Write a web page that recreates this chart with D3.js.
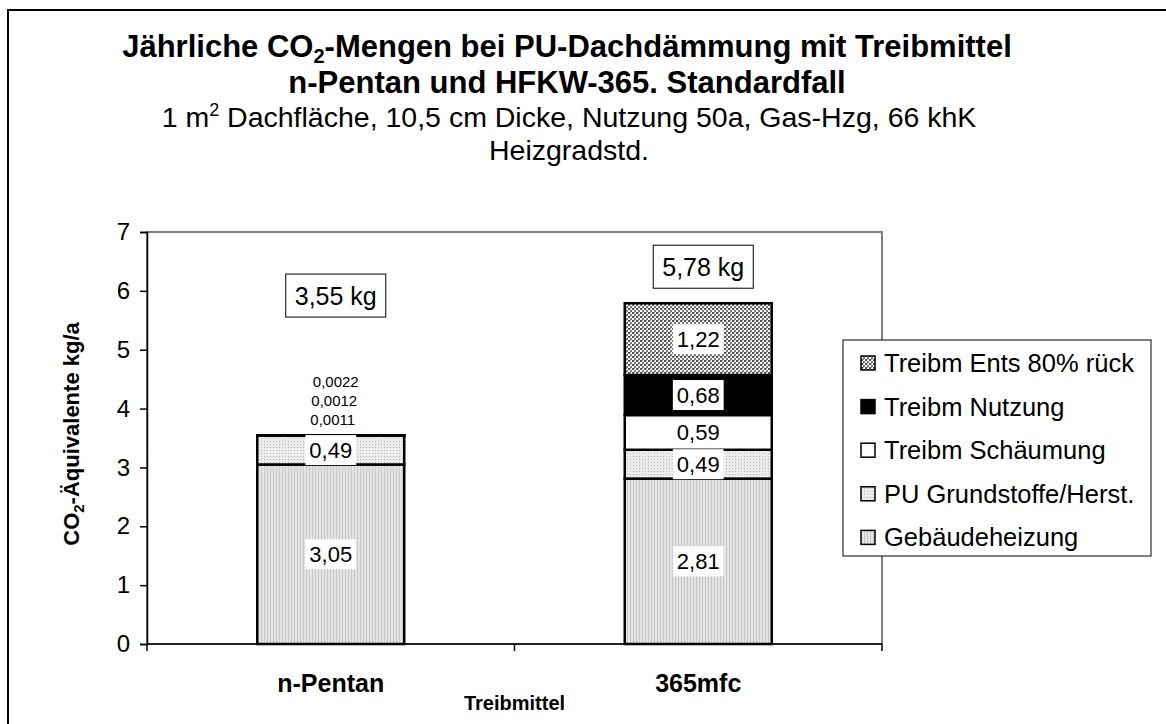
<!DOCTYPE html>
<html>
<head>
<meta charset="utf-8">
<script src="https://cdn.jsdelivr.net/npm/d3@7"></script>
<style>
  body { margin: 0; background: #fff; }
  svg { display: block; font-family: "Liberation Sans", Arial, sans-serif; }
</style>
</head>
<body>
<div id="chart"></div>
<script>
// Daten
const categories = ["n-Pentan", "365mfc"];
const seriesNames = ["Gebäudeheizung", "PU Grundstoffe/Herst.", "Treibm Schäumung", "Treibm Nutzung", "Treibm Ents 80% rück"];
const gebaeudeheizung = [3.05, 2.81];
const puGrundstoffe = [0.49, 0.49];
const treibmSchaeumung = [0.0011, 0.59];
const treibmNutzung = [0.0012, 0.68];
const treibmEnts = [0.0022, 1.22];
const totalLabels = ["3,55 kg", "5,78 kg"];
const totalLabelLevel = [5.92, 6.41];
const yTicks = [0, 1, 2, 3, 4, 5, 6, 7];

const width = 1166;
const height = 724;
const plot = { left: 147, right: 882, top: 232, bottom: 644 };

const rows = categories.map((c, i) => ({
  category: c,
  "Gebäudeheizung": gebaeudeheizung[i],
  "PU Grundstoffe/Herst.": puGrundstoffe[i],
  "Treibm Schäumung": treibmSchaeumung[i],
  "Treibm Nutzung": treibmNutzung[i],
  "Treibm Ents 80% rück": treibmEnts[i]
}));

const stacked = d3.stack().keys(seriesNames)(rows);

const svg = d3.select("#chart").append("svg")
    .attr("width", width)
    .attr("height", height);

// Muster
const defs = svg.append("defs");

const pHeiz = defs.append("pattern").attr("id", "p-heiz")
    .attr("patternUnits", "userSpaceOnUse").attr("width", 3).attr("height", 3);
pHeiz.append("rect").attr("width", 3).attr("height", 3).attr("fill", "#e4e4e4");
pHeiz.append("rect").attr("width", 1).attr("height", 3).attr("fill", "#c8c8c8");

const pPu = defs.append("pattern").attr("id", "p-pu")
    .attr("patternUnits", "userSpaceOnUse").attr("width", 3).attr("height", 3);
pPu.append("rect").attr("width", 3).attr("height", 3).attr("fill", "#ececec");
pPu.append("rect").attr("width", 1).attr("height", 1).attr("fill", "#b8b8b8");

const pEnts = defs.append("pattern").attr("id", "p-ents")
    .attr("patternUnits", "userSpaceOnUse").attr("width", 4).attr("height", 4);
pEnts.append("rect").attr("width", 4).attr("height", 4).attr("fill", "#ffffff");
pEnts.append("rect").attr("x", 0).attr("y", 0).attr("width", 2).attr("height", 2).attr("fill", "#555");
pEnts.append("rect").attr("x", 2).attr("y", 2).attr("width", 2).attr("height", 2).attr("fill", "#777");
pEnts.append("rect").attr("x", 2).attr("y", 0).attr("width", 1).attr("height", 1).attr("fill", "#999");

const fills = {
  "Gebäudeheizung": "url(#p-heiz)",
  "PU Grundstoffe/Herst.": "url(#p-pu)",
  "Treibm Schäumung": "#ffffff",
  "Treibm Nutzung": "#000000",
  "Treibm Ents 80% rück": "url(#p-ents)"
};

// Rahmen
svg.append("rect")
    .attr("x", 8).attr("y", 10)
    .attr("width", width + 20).attr("height", height + 20)
    .attr("fill", "none")
    .attr("stroke", "#000")
    .attr("stroke-width", 2);

// Titel
const title = svg.append("text")
    .attr("text-anchor", "middle")
    .attr("font-weight", "bold")
    .attr("font-size", 31)
    .attr("fill", "#000");
const t1 = title.append("tspan").attr("x", 567).attr("y", 57);
t1.append("tspan").text("Jährliche CO");
t1.append("tspan").attr("font-size", 20).attr("dy", 6).text("2");
t1.append("tspan").attr("dy", -6).text("-Mengen bei PU-Dachdämmung mit Treibmittel");
svg.append("text")
    .attr("text-anchor", "middle")
    .attr("font-weight", "bold")
    .attr("font-size", 31)
    .attr("x", 567).attr("y", 93)
    .text("n-Pentan und HFKW-365. Standardfall");

const s1 = svg.append("text")
    .attr("text-anchor", "middle")
    .attr("font-size", 28.5)
    .attr("x", 569).attr("y", 127);
s1.append("tspan").text("1 m");
s1.append("tspan").attr("font-size", 18).attr("dy", -11).text("2");
s1.append("tspan").attr("dy", 11).text(" Dachfläche, 10,5 cm Dicke, Nutzung 50a, Gas-Hzg, 66 khK");
svg.append("text")
    .attr("text-anchor", "middle")
    .attr("font-size", 28.5)
    .attr("x", 569).attr("y", 160)
    .text("Heizgradstd.");

// Skalen
const x = d3.scaleBand()
    .domain(categories)
    .range([plot.left, plot.right])
    .paddingInner(0.6)
    .paddingOuter(0.3);

const y = d3.scaleLinear()
    .domain([0, 7])
    .range([plot.bottom, plot.top]);

// Plotfläche
svg.append("rect")
    .attr("x", plot.left).attr("y", plot.top)
    .attr("width", plot.right - plot.left)
    .attr("height", plot.bottom - plot.top)
    .attr("fill", "none")
    .attr("stroke", "#808080")
    .attr("stroke-width", 2);

// Balken
const layer = svg.append("g").selectAll("g")
    .data(stacked)
    .join("g")
    .attr("fill", d => fills[d.key]);

layer.selectAll("rect")
    .data(d => d)
    .join("rect")
    .attr("x", d => x(d.data.category))
    .attr("y", d => y(d[1]))
    .attr("width", x.bandwidth())
    .attr("height", d => y(d[0]) - y(d[1]))
    .attr("stroke", "#000")
    .attr("stroke-width", 2.5);

// Achsen
const yAxis = svg.append("g")
    .attr("transform", `translate(${plot.left},0)`)
    .call(d3.axisLeft(y).tickValues(yTicks).tickSize(7).tickPadding(10).tickFormat(d3.format("d")));
yAxis.select(".domain").attr("stroke", "#000").attr("stroke-width", 1.5);
yAxis.selectAll(".tick line").attr("stroke", "#000").attr("stroke-width", 1.5);
yAxis.selectAll(".tick text")
    .attr("font-family", "Liberation Sans, Arial, sans-serif")
    .attr("font-size", 24)
    .attr("fill", "#000");

const bounds = d3.range(categories.length + 1).map(i => plot.left + i * x.step());
svg.append("line")
    .attr("x1", plot.left).attr("x2", plot.right)
    .attr("y1", plot.bottom).attr("y2", plot.bottom)
    .attr("stroke", "#000").attr("stroke-width", 1.5);
svg.append("g").selectAll("line")
    .data(bounds)
    .join("line")
    .attr("x1", d => d).attr("x2", d => d)
    .attr("y1", plot.bottom).attr("y2", plot.bottom + 7)
    .attr("stroke", "#000").attr("stroke-width", 1.5);

svg.append("g").selectAll("text")
    .data(categories)
    .join("text")
    .attr("x", d => x(d) + x.bandwidth() / 2)
    .attr("y", 692)
    .attr("text-anchor", "middle")
    .attr("font-weight", "bold")
    .attr("font-size", 25)
    .text(d => d);

svg.append("text")
    .attr("x", (plot.left + plot.right) / 2)
    .attr("y", 710)
    .attr("text-anchor", "middle")
    .attr("font-weight", "bold")
    .attr("font-size", 20)
    .text("Treibmittel");

const yTitle = svg.append("text")
    .attr("transform", `translate(79,${(plot.top + plot.bottom) / 2 - 4}) rotate(-90)`)
    .attr("text-anchor", "middle")
    .attr("font-weight", "bold")
    .attr("font-size", 22);
yTitle.append("tspan").text("CO");
yTitle.append("tspan").attr("font-size", 15).attr("dy", 5).text("2");
yTitle.append("tspan").attr("dy", -5).text("-Äquivalente kg/a");

// Wertbeschriftungen
const fmt = v => String(v).replace(".", ",");
const labels = svg.append("g");

stacked.forEach(s => {
  s.forEach(d => {
    const v = d.data[s.key];
    if (v < 0.05) return;
    const cx = x(d.data.category) + x.bandwidth() / 2;
    const cy = y((d[0] + d[1]) / 2);
    const txt = labels.append("text")
        .attr("x", cx).attr("y", cy)
        .attr("text-anchor", "middle")
        .attr("dominant-baseline", "central")
        .attr("font-size", 22)
        .attr("fill", "#000")
        .text(fmt(v));
    const bb = txt.node().getBBox();
    labels.insert("rect", () => txt.node())
        .attr("x", bb.x - 4).attr("y", cy - 15)
        .attr("width", bb.width + 8).attr("height", 30)
        .attr("fill", "#fff");
  });
});

// kleine Werte oberhalb des Balkens
categories.forEach((c, ci) => {
  const small = stacked.filter(s => rows[ci][s.key] < 0.05);
  const top = y(stacked[stacked.length - 1][ci][1]);
  small.forEach((s, k) => {
    labels.append("text")
        .attr("x", x(c) + x.bandwidth() / 2 + 2 + k * 1.5)
        .attr("y", top - 16 - k * 19)
        .attr("text-anchor", "middle")
        .attr("dominant-baseline", "central")
        .attr("font-size", 15)
        .text(fmt(rows[ci][s.key]));
  });
});

// Summen
categories.forEach((c, i) => {
  const cx = x(c) + x.bandwidth() / 2 + 5;
  const cy = y(totalLabelLevel[i]);
  const txt = svg.append("text")
      .attr("x", cx).attr("y", cy)
      .attr("text-anchor", "middle")
      .attr("dominant-baseline", "central")
      .attr("font-size", 25)
      .text(totalLabels[i]);
  const bb = txt.node().getBBox();
  svg.insert("rect", () => txt.node())
      .attr("x", bb.x - 9).attr("y", cy - 21.5)
      .attr("width", bb.width + 18).attr("height", 43)
      .attr("fill", "#fff")
      .attr("stroke", "#000")
      .attr("stroke-width", 1);
});

// Legende
const legend = svg.append("g");
legend.append("rect")
    .attr("x", 843).attr("y", 340)
    .attr("width", 308).attr("height", 216)
    .attr("fill", "#fff")
    .attr("stroke", "#000")
    .attr("stroke-width", 1);

const legendItems = seriesNames.slice().reverse();
const item = legend.selectAll("g.item")
    .data(legendItems)
    .join("g")
    .attr("class", "item")
    .attr("transform", (d, i) => `translate(861,${363 + i * 43.6})`);
item.append("rect")
    .attr("x", 0).attr("y", -7)
    .attr("width", 14).attr("height", 14)
    .attr("fill", d => fills[d])
    .attr("stroke", "#000")
    .attr("stroke-width", 1.5);
item.append("text")
    .attr("x", 23)
    .attr("dominant-baseline", "central")
    .attr("font-size", 25.5)
    .text(d => d);
</script>
</body>
</html>
